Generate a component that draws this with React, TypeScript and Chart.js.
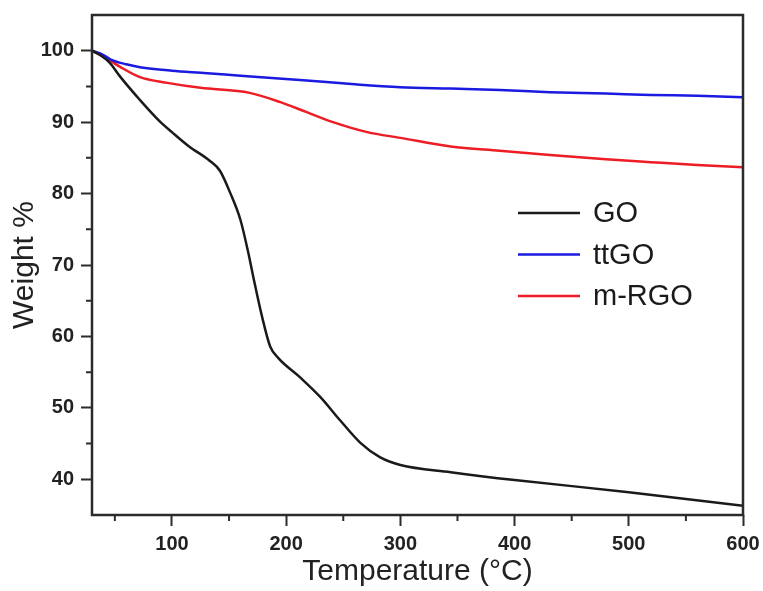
import React, { useEffect, useRef } from "react";
import { Chart, registerables } from "chart.js";

Chart.register(...registerables);

const goTemp = [30, 37, 45, 55, 72, 90, 100, 115, 133, 142, 151, 160, 167, 171, 179, 186, 193, 212, 230, 247, 265, 282, 300, 344, 400, 500, 600];
const goWeight = [100, 99.4, 98.4, 96.3, 93.1, 90.0, 88.6, 86.6, 84.6, 83.2, 80.1, 76.3, 71.6, 68.5, 62.7, 58.6, 57.0, 54.3, 51.5, 48.3, 45.1, 43.1, 42.0, 41.0, 39.9, 38.2, 36.3];

const ttgoTemp = [30, 40, 46, 60, 72, 100, 125, 160, 212, 260, 300, 344, 387, 431, 480, 519, 560, 600];
const ttgoWeight = [100, 99.4, 98.8, 98.1, 97.7, 97.2, 96.9, 96.5, 95.9, 95.3, 94.9, 94.7, 94.5, 94.2, 94.0, 93.8, 93.7, 93.5];

const mrgoTemp = [30, 40, 55, 72, 96, 125, 168, 195, 218, 241, 271, 300, 344, 387, 431, 480, 519, 560, 600];
const mrgoWeight = [100, 99.2, 97.7, 96.3, 95.5, 94.8, 94.1, 92.8, 91.4, 90.0, 88.6, 87.8, 86.6, 86.0, 85.4, 84.8, 84.4, 84.0, 83.7];

const seriesLabels = ["GO", "ttGO", "m-RGO"];
const seriesColors = ["#1a1a1a", "#1a1ae0", "#ee1c25"];

const xMajorTicks = [100, 200, 300, 400, 500, 600];
const xMinorTicks = [50, 150, 250, 350, 450, 550];
const yMajorTicks = [40, 50, 60, 70, 80, 90, 100];
const yMinorTicks = [45, 55, 65, 75, 85, 95];

const FONT = "'Liberation Sans', Arial, Helvetica, sans-serif";
const AXIS_COLOR = "#2b2b2b";

const toPoints = (xs: number[], ys: number[]) => xs.map((x, i) => ({ x, y: ys[i] }));

const framePlugin = {
  id: "frameAndLegend",
  afterDraw(chart: any) {
    const { ctx, chartArea } = chart;
    const { left, right, top, bottom } = chartArea;
    const xs = chart.scales.x;
    const ys = chart.scales.y;
    ctx.save();
    ctx.strokeStyle = AXIS_COLOR;
    ctx.lineWidth = 2;
    ctx.beginPath();
    xMinorTicks.forEach((v) => {
      const px = xs.getPixelForValue(v);
      ctx.moveTo(px, bottom);
      ctx.lineTo(px, bottom + 6);
    });
    yMinorTicks.forEach((v) => {
      const py = ys.getPixelForValue(v);
      ctx.moveTo(left, py);
      ctx.lineTo(left - 6, py);
    });
    ctx.stroke();
    ctx.lineWidth = 2.5;
    ctx.strokeRect(left, top, right - left, bottom - top);
    chart.data.datasets.forEach((ds: any, i: number) => {
      const y = top + 198 + i * 41.5;
      ctx.strokeStyle = ds.borderColor;
      ctx.lineWidth = 2.5;
      ctx.beginPath();
      ctx.moveTo(left + 426, y);
      ctx.lineTo(left + 488, y);
      ctx.stroke();
      ctx.fillStyle = "#1a1a1a";
      ctx.font = `29px ${FONT}`;
      ctx.textBaseline = "middle";
      ctx.textAlign = "left";
      ctx.fillText(ds.label, left + 501, y + 1);
    });
    ctx.restore();
  },
};

export default function App() {
  const ref = useRef<HTMLCanvasElement | null>(null);

  useEffect(() => {
    if (!ref.current) return;
    const series = [
      toPoints(goTemp, goWeight),
      toPoints(ttgoTemp, ttgoWeight),
      toPoints(mrgoTemp, mrgoWeight),
    ];
    const chart = new Chart(ref.current, {
      type: "line",
      data: {
        datasets: series.map((d, i) => ({
          label: seriesLabels[i],
          data: d,
          borderColor: seriesColors[i],
          backgroundColor: seriesColors[i],
          borderWidth: 2.5,
          pointRadius: 0,
          cubicInterpolationMode: "monotone" as const,
          fill: false,
        })),
      },
      options: {
        responsive: false,
        animation: false,
        layout: { padding: { top: 15, right: 20, left: 0, bottom: 0 } },
        plugins: { legend: { display: false }, tooltip: { enabled: false } },
        scales: {
          x: {
            type: "linear",
            min: 30,
            max: 600,
            afterBuildTicks: (scale: any) => {
              scale.ticks = xMajorTicks.map((v) => ({ value: v }));
            },
            afterFit: (scale: any) => {
              scale.height = 76;
              scale.paddingLeft = 0;
              scale.paddingRight = 0;
            },
            grid: {
              display: true,
              drawOnChartArea: false,
              drawTicks: true,
              tickLength: 11,
              tickWidth: 2,
              tickColor: AXIS_COLOR,
            },
            border: { display: false },
            ticks: {
              padding: 6,
              color: "#222",
              font: { family: FONT, size: 20, weight: "bold" },
              maxRotation: 0,
            },
            title: {
              display: true,
              text: "Temperature (°C)",
              color: "#222",
              font: { family: FONT, size: 30 },
              padding: { top: 0, bottom: 1 },
            },
          },
          y: {
            type: "linear",
            min: 35,
            max: 105,
            afterBuildTicks: (scale: any) => {
              scale.ticks = yMajorTicks.map((v) => ({ value: v }));
            },
            afterFit: (scale: any) => {
              scale.width = 92;
              scale.paddingTop = 0;
              scale.paddingBottom = 0;
            },
            grid: {
              display: true,
              drawOnChartArea: false,
              drawTicks: true,
              tickLength: 11,
              tickWidth: 2,
              tickColor: AXIS_COLOR,
            },
            border: { display: false },
            ticks: {
              padding: 7,
              color: "#222",
              font: { family: FONT, size: 20, weight: "bold" },
            },
            title: {
              display: true,
              text: "Weight %",
              color: "#222",
              font: { family: FONT, size: 30 },
              padding: { top: 7, bottom: 0 },
            },
          },
        },
      },
      plugins: [framePlugin],
    });
    return () => chart.destroy();
  }, []);

  return (
    <div style={{ position: "absolute", left: 0, top: 0, width: 763, height: 591, background: "#fff" }}>
      <canvas ref={ref} width={763} height={591} />
    </div>
  );
}
